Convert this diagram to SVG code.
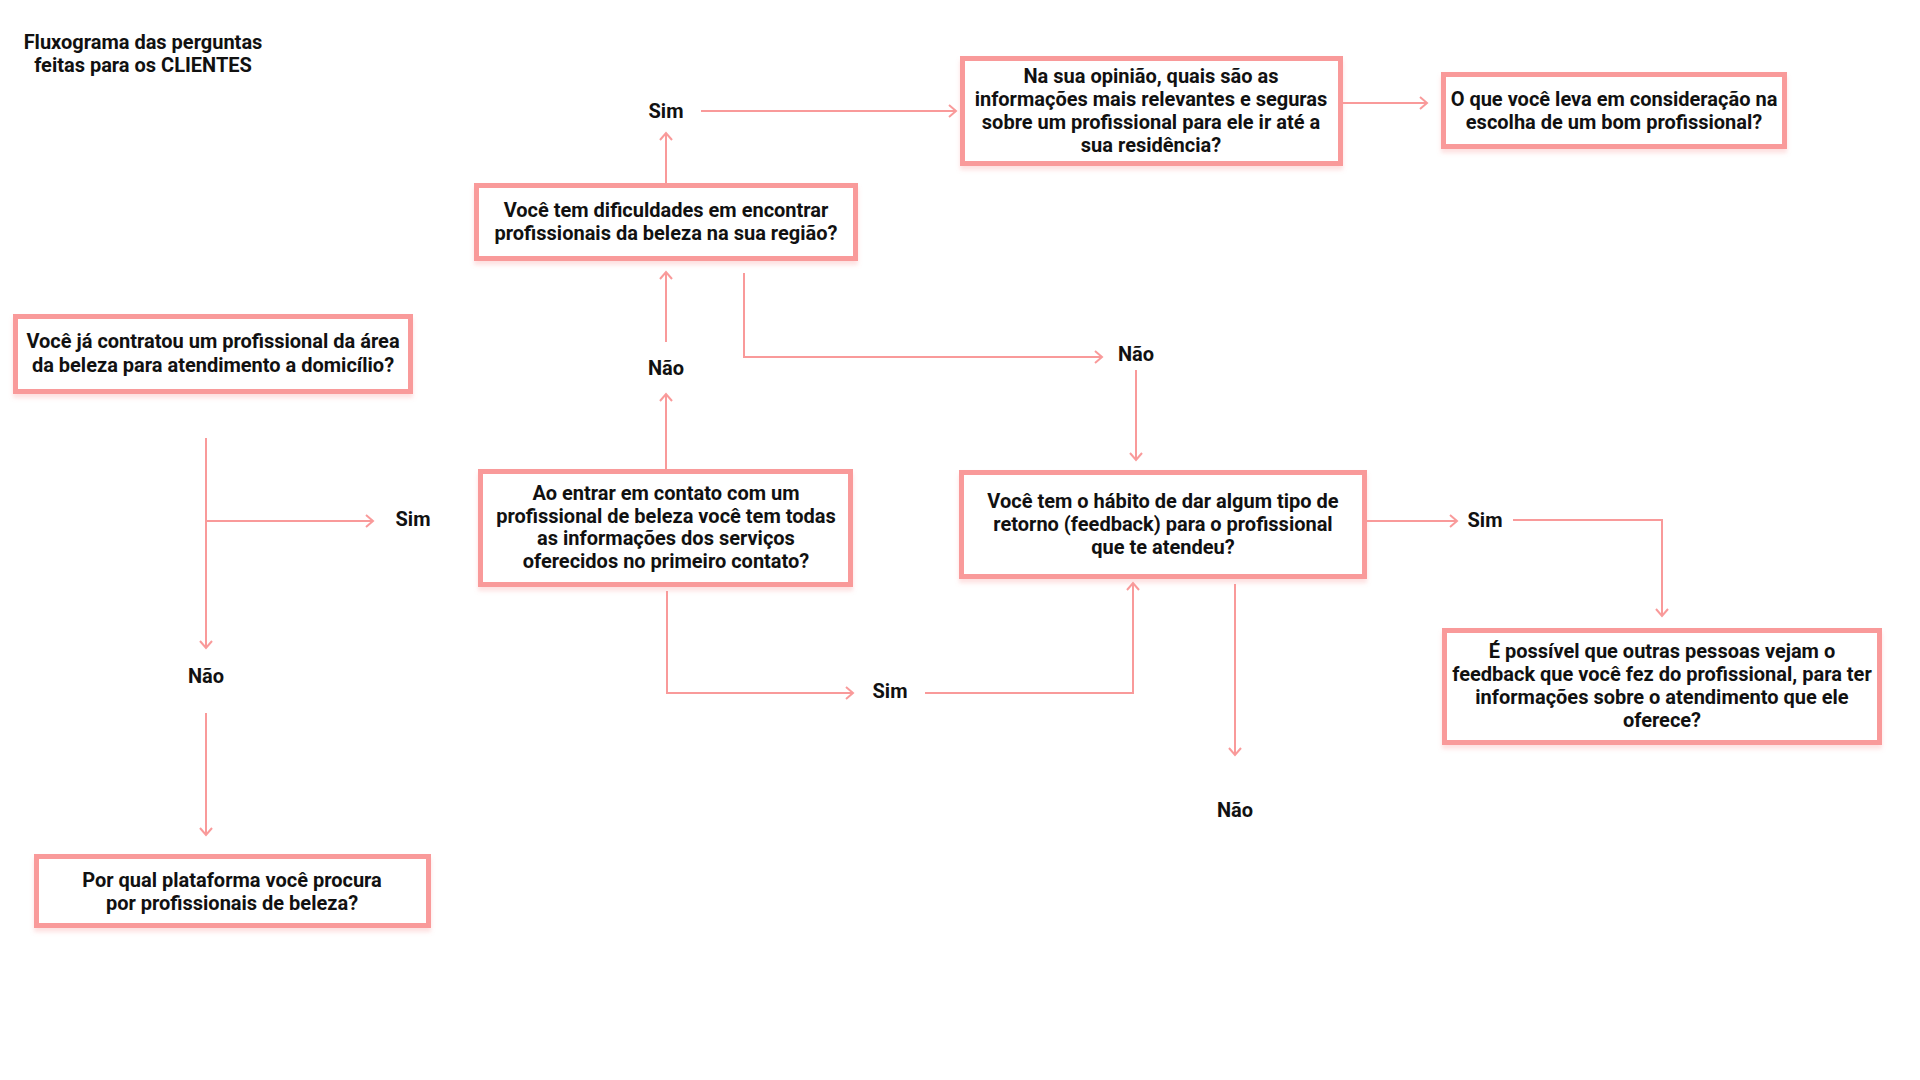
<svg xmlns="http://www.w3.org/2000/svg" width="1920" height="1080" viewBox="0 0 1920 1080">
<style>
.box{fill:#fff;stroke:#F99A9A;stroke-width:5;filter:url(#sh)}
.t{font-family:Roboto,"Liberation Sans",sans-serif;font-weight:700;font-size:20px;fill:#111;text-anchor:middle}
.c{fill:none;stroke:#F99A9A;stroke-width:2;marker-end:url(#ah)}
</style>
<defs>
<filter id="sh" x="-5%" y="-10%" width="110%" height="130%">
<feDropShadow dx="0" dy="4" stdDeviation="2" flood-color="#F99A9A" flood-opacity="0.3"/>
</filter>
<marker id="ah" markerUnits="userSpaceOnUse" viewBox="-10 -8 12 16" refX="0" refY="0" markerWidth="12" markerHeight="16" orient="auto">
<path d="M-7,-6 L0,0 L-7,6" fill="none" stroke="#F99A9A" stroke-width="2"/>
</marker>
</defs>
<rect width="1920" height="1080" fill="#fff"/>
<g id="title">
<text class="t" x="143" y="49">Fluxograma das perguntas</text>
<text class="t" x="143" y="72">feitas para os CLIENTES</text>
</g>
<g id="connectors">
<path class="c" d="M206,438 V648"/>
<path class="c" d="M206,521 H373"/>
<path class="c" d="M206,713 V835"/>
<path class="c" d="M666,469 V394"/>
<path class="c" d="M666,342 V272"/>
<path class="c" d="M666,183 V133"/>
<path class="c" d="M701,111 H956"/>
<path class="c" d="M1343,103 H1427"/>
<path class="c" d="M744,273 V357 H1102"/>
<path class="c" d="M1136,370 V460"/>
<path class="c" d="M667,591 V693 H853"/>
<path class="c" d="M925,693 H1133 V583"/>
<path class="c" d="M1367,521 H1457"/>
<path class="c" d="M1513,520 H1662 V616"/>
<path class="c" d="M1235,584 V755"/>
</g>
<g id="labels">
<text class="t" x="666" y="118">Sim</text>
<text class="t" x="666" y="375">Não</text>
<text class="t" x="1136" y="361">Não</text>
<text class="t" x="413" y="526">Sim</text>
<text class="t" x="206" y="683">Não</text>
<text class="t" x="890" y="698">Sim</text>
<text class="t" x="1485" y="527">Sim</text>
<text class="t" x="1235" y="817">Não</text>
</g>
<g id="n1">
<rect class="box" x="15.5" y="316.5" width="395" height="75"/>
<text class="t" x="213" y="348">Você já contratou um profissional da área</text>
<text class="t" x="213" y="372">da beleza para atendimento a domicílio?</text>
</g>
<g id="n2">
<rect class="box" x="476.5" y="185.5" width="379" height="73"/>
<text class="t" x="666" y="217">Você tem dificuldades em encontrar</text>
<text class="t" x="666" y="240">profissionais da beleza na sua região?</text>
</g>
<g id="n3">
<rect class="box" x="962.5" y="58.5" width="378" height="105"/>
<text class="t" x="1151" y="83">Na sua opinião, quais são as</text>
<text class="t" x="1151" y="106">informações mais relevantes e seguras</text>
<text class="t" x="1151" y="129">sobre um profissional para ele ir até a</text>
<text class="t" x="1151" y="152">sua residência?</text>
</g>
<g id="n4">
<rect class="box" x="1443.5" y="74.5" width="341" height="72"/>
<text class="t" x="1614" y="106">O que você leva em consideração na</text>
<text class="t" x="1614" y="129">escolha de um bom profissional?</text>
</g>
<g id="n5">
<rect class="box" x="480.5" y="471.5" width="370" height="113"/>
<text class="t" x="666" y="500">Ao entrar em contato com um</text>
<text class="t" x="666" y="523">profissional de beleza você tem todas</text>
<text class="t" x="666" y="545">as informações dos serviços</text>
<text class="t" x="666" y="568">oferecidos no primeiro contato?</text>
</g>
<g id="n6">
<rect class="box" x="961.5" y="472.5" width="403" height="104"/>
<text class="t" x="1163" y="508">Você tem o hábito de dar algum tipo de</text>
<text class="t" x="1163" y="531">retorno (feedback) para o profissional</text>
<text class="t" x="1163" y="554">que te atendeu?</text>
</g>
<g id="n7">
<rect class="box" x="1444.5" y="630.5" width="435" height="112"/>
<text class="t" x="1662" y="658">É possível que outras pessoas vejam o</text>
<text class="t" x="1662" y="681">feedback que você fez do profissional, para ter</text>
<text class="t" x="1662" y="704">informações sobre o atendimento que ele</text>
<text class="t" x="1662" y="727">oferece?</text>
</g>
<g id="n8">
<rect class="box" x="36.5" y="856.5" width="392" height="69"/>
<text class="t" x="232" y="887">Por qual plataforma você procura</text>
<text class="t" x="232" y="910">por profissionais de beleza?</text>
</g>
</svg>
